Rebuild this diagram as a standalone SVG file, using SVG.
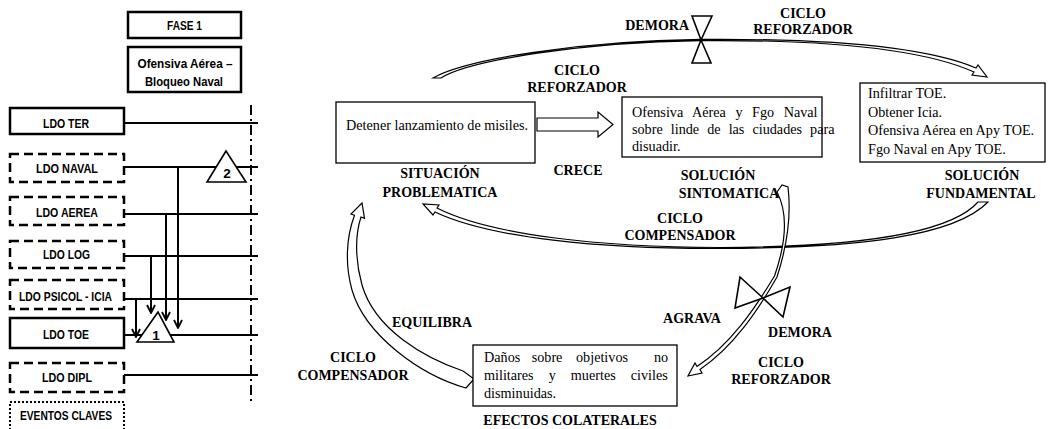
<svg xmlns="http://www.w3.org/2000/svg" width="1048" height="429" viewBox="0 0 1048 429">
  <defs>
    <style>
      .bx { fill: #fff; stroke: #000; stroke-width: 2.5; }
      .dash { stroke-dasharray: 9 5; }
      .dot { stroke-dasharray: 2 2; stroke-width: 2; }
      .ln { stroke: #000; stroke-width: 2; fill: none; }
      .lt { font-family: "Liberation Sans", Arial, sans-serif; font-weight: bold; font-size: 13.5px; text-anchor: middle; fill: #000; }
      .lbl { font-family: "Liberation Serif", "Times New Roman", serif; font-weight: bold; font-size: 14px; text-anchor: middle; fill: #000; }
      .txt { font-family: "Liberation Serif", "Times New Roman", serif; font-size: 14.2px; fill: #000; }
      .rbx { fill: #fff; stroke: #000; stroke-width: 1.3; }
      .band { fill: #fff; stroke: #000; stroke-width: 1.2; stroke-linejoin: miter; }
      .tri { fill: #fff; stroke: #000; stroke-width: 1.6; }
    </style>
    <marker id="vhead" viewBox="0 0 10 10" refX="9" refY="5" markerWidth="10" markerHeight="10" markerUnits="userSpaceOnUse" orient="auto">
      <path d="M1,1 L9,5 L1,9" fill="none" stroke="#000" stroke-width="1.8"/>
    </marker>
  </defs>

  <!-- ===== Left panel: lines of operation ===== -->
  <g id="fase">
    <rect class="bx" x="128" y="12" width="113" height="26"/>
    <text class="lt" x="184.5" y="30" textLength="35" lengthAdjust="spacingAndGlyphs">FASE 1</text>
  </g>
  <g id="fase-titulo">
    <rect class="bx" x="128" y="47" width="113" height="45"/>
    <text class="lt" x="185" y="68" textLength="95" lengthAdjust="spacingAndGlyphs">Ofensiva Aérea –</text>
    <text class="lt" x="184" y="86" textLength="78" lengthAdjust="spacingAndGlyphs">Bloqueo Naval</text>
  </g>

  <g id="ldo-lines">
    <line x1="251" y1="105" x2="251" y2="405" stroke="#000" stroke-width="2" stroke-dasharray="10 4 2 4"/>
    <line class="ln" x1="124" y1="123" x2="258" y2="123"/>
    <line class="ln" x1="124" y1="167" x2="258" y2="167"/>
    <line class="ln" x1="124" y1="214" x2="258" y2="214"/>
    <line class="ln" x1="124" y1="256" x2="258" y2="256"/>
    <line class="ln" x1="124" y1="299" x2="258" y2="299"/>
    <line class="ln" x1="124" y1="335" x2="258" y2="335"/>
    <line class="ln" x1="124" y1="375" x2="258" y2="375"/>
    <!-- links feeding event 1 -->
    <line class="ln" x1="178" y1="167" x2="178" y2="328" marker-end="url(#vhead)"/>
    <line class="ln" x1="166" y1="214" x2="166" y2="320" marker-end="url(#vhead)"/>
    <line class="ln" x1="151" y1="256" x2="151" y2="313" marker-end="url(#vhead)"/>
    <line class="ln" x1="136" y1="299" x2="136" y2="337" marker-end="url(#vhead)"/>
  </g>

  <g id="ldo-ter">
    <rect class="bx" x="10" y="108" width="114" height="26"/>
    <text class="lt" x="66" y="128" textLength="46" lengthAdjust="spacingAndGlyphs">LDO TER</text>
  </g>
  <g id="ldo-naval">
    <rect class="bx dash" x="10" y="154" width="114" height="28"/>
    <text class="lt" x="67" y="172.5" textLength="62" lengthAdjust="spacingAndGlyphs">LDO NAVAL</text>
  </g>
  <g id="ldo-aerea">
    <rect class="bx dash" x="10" y="197" width="114" height="28"/>
    <text class="lt" x="67" y="216.5" textLength="62" lengthAdjust="spacingAndGlyphs">LDO AEREA</text>
  </g>
  <g id="ldo-log">
    <rect class="bx dash" x="10" y="241" width="114" height="27"/>
    <text class="lt" x="66.5" y="258.5" textLength="47" lengthAdjust="spacingAndGlyphs">LDO LOG</text>
  </g>
  <g id="ldo-psicol">
    <rect class="bx dash" x="10" y="280" width="114" height="29"/>
    <text class="lt" x="65.5" y="300.5" textLength="93" lengthAdjust="spacingAndGlyphs">LDO PSICOL - ICIA</text>
  </g>
  <g id="ldo-toe">
    <rect class="bx" x="10" y="318" width="114" height="30"/>
    <text class="lt" x="66" y="338.5" textLength="46" lengthAdjust="spacingAndGlyphs">LDO TOE</text>
  </g>
  <g id="ldo-dipl">
    <rect class="bx dash" x="10" y="363" width="114" height="29"/>
    <text class="lt" x="67" y="382" textLength="50" lengthAdjust="spacingAndGlyphs">LDO DIPL</text>
  </g>
  <g id="eventos">
    <rect class="bx dot" x="10" y="402" width="114" height="30"/>
    <text class="lt" x="66" y="420" textLength="92" lengthAdjust="spacingAndGlyphs">EVENTOS CLAVES</text>
  </g>

  <g id="evento-2">
    <polygon class="tri" points="226,151 207,182 246,182"/>
    <text class="lt" x="227" y="178">2</text>
  </g>
  <g id="evento-1">
    <polygon class="tri" points="158,312 137,342 174,342"/>
    <text class="lt" x="156" y="340">1</text>
  </g>

  <!-- ===== Right panel: causal loop ===== -->
  <g id="connectors">
    <!-- top reinforcing loop: problem to fundamental solution -->
    <path class="band" d="M441,78 C468,61 580,42 701,40.6 C830,39.6 925,50 974,72 L972,75 L987,77 L978,65 L976,68 C925,46.5 830,38.4 701,39.4 C580,40.8 465,59.5 433,78 Z"/>
    <!-- compensating loop: fundamental solution back to problem -->
    <path class="band" d="M988,202 C955,236 860,248 720,248.5 C600,249 490,238 435,212 L433,215 L423,204 L439,205 L437,208 C490,235 600,247.2 720,247.5 C858,247 950,234 978,202 Z"/>
    <!-- symptomatic solution to collateral effects -->
    <path class="band" d="M777,192 L782,185 L788,187 C791,212 788,243 777,277 C757,312 733,347 700,369.5 L702,373 L688,376 L695,363 L697,366.5 C730,345 754,310 774.5,276 C786,243 788,213 777,192 Z"/>
    <!-- collateral effects back to problem -->
    <path class="band" d="M474,379 L463,371 C425,358 375,330 362,285 C355,260 355,235 361,217 L364.5,218.4 L362,203 L351,214 L354.5,215.3 C346,238 345,265 352,290 C365,335 420,375 466,388 Z"/>
    <!-- grows: problem to symptomatic solution -->
    <polygon class="band" stroke-width="1.5" points="537,118 598,118 598,112 613,124.5 598,137 598,131 537,131"/>
  </g>

  <g id="demora-top">
    <polygon class="tri" points="692,16 712,16 701,40"/>
    <polygon class="tri" points="701,40 692,63 711,63"/>
  </g>
  <g id="demora-bottom">
    <polygon class="tri" points="763,298 740,277 735,308"/>
    <polygon class="tri" points="763,298 790,287 783,317"/>
  </g>

  <g id="situacion">
    <rect class="rbx" x="336" y="102" width="199" height="61"/>
    <text class="txt" x="346" y="130">Detener lanzamiento de misiles.</text>
    <text class="lbl" x="440" y="178">SITUACIÓN</text>
    <text class="lbl" x="440" y="197">PROBLEMATICA</text>
  </g>
  <g id="solucion-sintomatica">
    <rect class="rbx" x="622" y="97" width="200" height="60"/>
    <text class="txt" x="632" y="117" word-spacing="6">Ofensiva Aérea y Fgo Naval</text>
    <text class="txt" x="632" y="134" word-spacing="4.5">sobre linde de las ciudades para</text>
    <text class="txt" x="632" y="151">disuadir.</text>
    <text class="lbl" x="718" y="180">SOLUCIÓN</text>
    <text class="lbl" x="729" y="198">SINTOMATICA</text>
  </g>
  <g id="solucion-fundamental">
    <rect class="rbx" x="860" y="83" width="185" height="79"/>
    <text class="txt" x="868" y="98">Infiltrar TOE.</text>
    <text class="txt" x="868" y="116.5">Obtener Icia.</text>
    <text class="txt" x="868" y="135">Ofensiva Aérea en Apy TOE.</text>
    <text class="txt" x="868" y="153.5">Fgo Naval en Apy TOE.</text>
    <text class="lbl" x="982" y="180">SOLUCIÓN</text>
    <text class="lbl" x="981" y="198">FUNDAMENTAL</text>
  </g>
  <g id="efectos">
    <rect class="rbx" x="473" y="345" width="204" height="61"/>
    <text class="txt" y="362"><tspan x="484">Daños</tspan><tspan x="531.7">sobre</tspan><tspan x="576">objetivos</tspan><tspan x="654">no</tspan></text>
    <text class="txt" x="484" y="380" word-spacing="11.5">militares y muertes civiles</text>
    <text class="txt" x="484" y="398">disminuidas.</text>
    <text class="lbl" x="570" y="425">EFECTOS COLATERALES</text>
  </g>

  <g id="loop-labels">
    <text class="lbl" x="577" y="75">CICLO</text>
    <text class="lbl" x="577" y="92">REFORZADOR</text>
    <text class="lbl" x="578" y="175">CRECE</text>
    <text class="lbl" x="689" y="30" style="text-anchor:end">DEMORA</text>
    <text class="lbl" x="803" y="18">CICLO</text>
    <text class="lbl" x="803" y="34">REFORZADOR</text>
    <text class="lbl" x="680" y="223">CICLO</text>
    <text class="lbl" x="680" y="240">COMPENSADOR</text>
    <text class="lbl" x="692" y="323">AGRAVA</text>
    <text class="lbl" x="800" y="337">DEMORA</text>
    <text class="lbl" x="781" y="367">CICLO</text>
    <text class="lbl" x="781" y="384">REFORZADOR</text>
    <text class="lbl" x="432" y="327">EQUILIBRA</text>
    <text class="lbl" x="353" y="362">CICLO</text>
    <text class="lbl" x="353" y="380">COMPENSADOR</text>
  </g>
</svg>
